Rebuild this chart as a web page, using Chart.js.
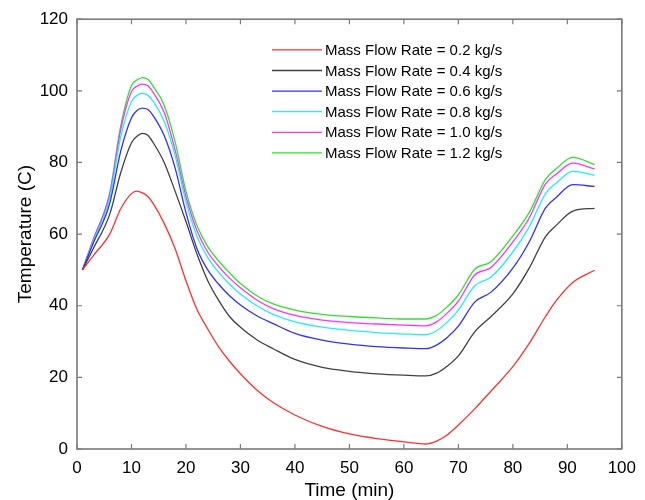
<!DOCTYPE html>
<html>
<head>
<meta charset="utf-8">
<script src="https://cdn.jsdelivr.net/npm/chart.js@4.4.0/dist/chart.umd.min.js"></script>
<style>
html,body{margin:0;padding:0;background:#fff;}
#wrap{width:645px;height:500px;position:relative;}
</style>
</head>
<body>
<div id="wrap"><canvas id="c" width="645" height="500"></canvas></div>
<script>
// Time (min)
const times = [1, 3, 6, 8, 10, 11, 12, 13, 14, 16, 18, 20, 22, 24, 26, 28, 30, 33, 36, 40, 45, 50, 55, 60, 64, 66, 68, 70, 73, 76, 80, 83, 86, 88, 91, 95];
// Temperature (C) per mass flow rate
const flow02 = [50, 54, 60, 67, 71.3, 72, 71.5, 70.5, 68.5, 63, 56, 47, 39, 33.5, 28.5, 24.5, 21, 16.5, 13, 9.5, 6.3, 4.2, 2.9, 2.0, 1.4, 2.2, 4, 6.7, 11.2, 16.2, 23, 29.5, 37, 41.5, 46.5, 49.9];
const flow04 = [50, 56, 65.5, 77, 85.5, 87.3, 88.1, 87.6, 85.5, 80, 72, 63.5, 54.5, 47, 41.5, 37, 34, 30.5, 28, 25, 22.8, 21.7, 21, 20.6, 20.4, 21.2, 23.2, 26, 32.7, 37, 43.3, 50.5, 59.3, 62.5, 66.4, 67.2];
const flow06 = [50, 57.5, 68.5, 83, 92.5, 94.5, 95.2, 94.8, 93, 87.5, 78.5, 66, 56, 50, 46, 42.8, 40.2, 37.2, 35, 32.3, 30.4, 29.3, 28.6, 28.2, 28, 29, 31.2, 34.3, 41, 43.8, 50.5, 57.8, 67.3, 70.3, 73.8, 73.3];
const flow08 = [50, 58, 70, 87, 97, 98.7, 99.3, 98.8, 97, 91.5, 82, 69, 59.5, 53.5, 49.3, 46, 43.3, 40, 37.6, 35.5, 34, 33.1, 32.5, 32.1, 31.9, 33, 35.5, 38.8, 45.6, 48, 55, 62, 71.3, 74.3, 77.5, 76.5];
const flow10 = [50, 58.5, 71, 89, 99.8, 101.3, 101.9, 101.4, 99.5, 94, 83.5, 70.5, 61, 55, 51, 47.7, 45, 41.6, 39.2, 37.3, 36, 35.3, 34.9, 34.6, 34.4, 35.5, 38, 41.3, 48.6, 50.7, 57.8, 64.5, 74, 76.8, 79.8, 78.2];
const flow12 = [50, 58.6, 71.5, 90, 101.5, 103, 103.7, 103.2, 101.2, 96, 85.8, 72, 62.5, 56.5, 52.5, 49.2, 46.2, 42.8, 40.5, 38.8, 37.6, 37, 36.6, 36.3, 36.3, 37.3, 39.8, 43, 50.2, 52.3, 59.5, 66, 75.3, 78.3, 81.4, 79.4];
const seriesLabels = ["Mass Flow Rate = 0.2 kg/s", "Mass Flow Rate = 0.4 kg/s", "Mass Flow Rate = 0.6 kg/s", "Mass Flow Rate = 0.8 kg/s", "Mass Flow Rate = 1.0 kg/s", "Mass Flow Rate = 1.2 kg/s"];
const seriesColors = ["#ff3030", "#404040", "#3030ff", "#20f0f0", "#ff30ff", "#30e030"];
const xTicks = [0, 10, 20, 30, 40, 50, 60, 70, 80, 90, 100];
const yTicks = [0, 20, 40, 60, 80, 100, 120];

const allSeries = [flow02, flow04, flow06, flow08, flow10, flow12];
const datasets = allSeries.map((s, i) => ({
  label: seriesLabels[i],
  data: times.map((t, j) => ({x: t, y: s[j]})),
  borderColor: seriesColors[i],
  backgroundColor: seriesColors[i],
  borderWidth: 1.3,
  pointRadius: 0,
  fill: false,
  cubicInterpolationMode: 'monotone'
}));

const FONT = "'Liberation Sans', Arial, sans-serif";
const AXIS_COLOR = '#7a7a7a';

const boxPlugin = {
  id: 'boxTicks',
  afterDraw(chart) {
    const ctx = chart.ctx, a = chart.chartArea;
    const xs = chart.scales.x, ys = chart.scales.y;
    ctx.save();
    ctx.strokeStyle = AXIS_COLOR;
    ctx.lineWidth = 1.6;
    ctx.strokeRect(a.left, a.top, a.right - a.left, a.bottom - a.top);
    ctx.lineWidth = 1.2;
    const L = 5;
    ctx.beginPath();
    xTicks.forEach(v => {
      const px = xs.getPixelForValue(v);
      ctx.moveTo(px, a.bottom); ctx.lineTo(px, a.bottom - L);
      ctx.moveTo(px, a.top); ctx.lineTo(px, a.top + L);
    });
    yTicks.forEach(v => {
      const py = ys.getPixelForValue(v);
      ctx.moveTo(a.left, py); ctx.lineTo(a.left + L, py);
      ctx.moveTo(a.right, py); ctx.lineTo(a.right - L, py);
    });
    ctx.stroke();
    // legend inside plot area
    ctx.font = "15px " + FONT;
    ctx.textBaseline = 'middle';
    ctx.textAlign = 'left';
    chart.data.datasets.forEach((d, i) => {
      const y = a.top + 30.7 + i * 20.6;
      const x0 = a.left + 195;
      ctx.strokeStyle = d.borderColor;
      ctx.lineWidth = 1.3;
      ctx.beginPath();
      ctx.moveTo(x0, y); ctx.lineTo(x0 + 50, y);
      ctx.stroke();
      ctx.fillStyle = '#000';
      ctx.fillText(d.label, x0 + 53, y + 1);
    });
    ctx.restore();
  }
};

new Chart(document.getElementById('c'), {
  type: 'line',
  data: {datasets},
  options: {
    responsive: false,
    animation: false,
    devicePixelRatio: 1,
    layout: {padding: {top: 17, right: 23, bottom: 0, left: 0}},
    plugins: {legend: {display: false}, tooltip: {enabled: false}},
    scales: {
      x: {
        type: 'linear', min: 0, max: 100,
        afterBuildTicks: s => { s.ticks = xTicks.map(v => ({value: v})); },
        afterFit: s => { s.height = 51; },
        grid: {display: false, drawTicks: false},
        border: {display: false},
        ticks: {color: '#000', font: {family: FONT, size: 17}, padding: 9, maxRotation: 0},
        title: {display: true, text: 'Time (min)', color: '#000', font: {family: FONT, size: 19, lineHeight: 1}, padding: 0}
      },
      y: {
        type: 'linear', min: 0, max: 120,
        afterBuildTicks: s => { s.ticks = yTicks.map(v => ({value: v})); },
        afterFit: s => { s.width = 77; },
        grid: {display: false, drawTicks: false},
        border: {display: false},
        ticks: {color: '#000', font: {family: FONT, size: 17}, padding: 9},
        title: {display: true, text: 'Temperature (C)', color: '#000', font: {family: FONT, size: 19, lineHeight: 1}, padding: {top: 16, bottom: 0}}
      }
    }
  },
  plugins: [boxPlugin]
});
</script>
</body>
</html>
